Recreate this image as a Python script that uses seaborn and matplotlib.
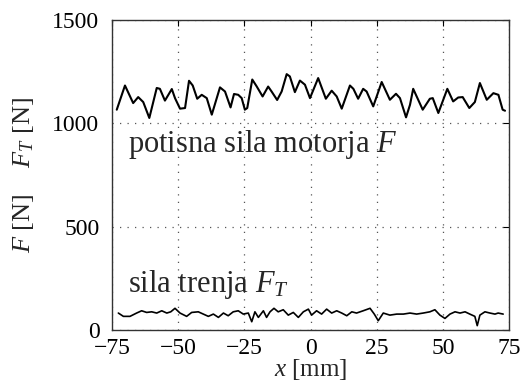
import numpy as np
import pandas as pd
import matplotlib
matplotlib.use("Agg")
import matplotlib.pyplot as plt
import seaborn as sns

# ---- data ----
x_F = [-73.2, -70.1, -67.0, -65.1, -63.2, -60.9, -58.1, -56.9, -55.0, -52.4, -51.2, -49.3,
       -47.4, -45.9, -44.5, -42.8, -41.1, -39.2, -37.3,
       -34.2, -32.3, -30.2, -28.9, -27.3, -26.0, -24.8, -23.9, -22.0, -20.3, -18.1, -16.0,
       -14.7, -12.6, -10.9, -9.0, -7.8, -5.9, -4.0, -2.1, -0.2,
       2.9, 5.8, 8.0, 9.9, 11.8, 14.9, 16.2, 18.0, 19.9, 21.2, 23.7, 26.9, 30.0, 32.3, 33.8,
       36.1, 37.6,
       38.8, 42.4, 45.1, 46.2, 48.3, 51.7, 53.9, 55.8, 57.5, 60.0, 62.1, 64.0, 66.6, 69.1,
       71.0, 72.6, 73.5]
F_vals = [1066, 1183, 1098, 1127, 1103, 1026, 1171, 1167, 1110, 1166, 1122, 1071,
          1074, 1206, 1183, 1119, 1138, 1122, 1042,
          1174, 1154, 1077, 1142, 1138, 1122, 1066, 1074, 1212, 1178, 1130, 1178,
          1154, 1113, 1154, 1238, 1227, 1151, 1207, 1187, 1122,
          1219, 1119, 1158, 1130, 1071, 1183, 1167, 1119, 1167, 1154, 1082, 1200, 1114, 1143, 1122,
          1029, 1090,
          1167, 1066, 1119, 1122, 1050, 1167, 1106, 1125, 1127, 1074, 1103, 1195, 1114, 1146,
          1138, 1066, 1061]

x_FT = [-72.6, -70.7, -68.2, -65.7, -63.8, -61.9, -60.0, -58.1, -56.2, -54.3, -52.8, -51.2,
        -49.3, -46.8, -44.9, -42.4, -40.5, -38.6, -36.7, -34.8, -32.9, -31.1, -29.2, -27.3,
        -25.4, -23.5, -22.2, -21.0, -19.7, -17.8, -16.6, -15.3, -13.8, -12.2, -10.3, -8.4,
        -6.5, -4.6, -2.7, -0.8, 0.4, 2.3, 4.2, 6.1, 8.0, 9.9, 11.8, 13.7, 15.6, 17.4, 19.9,
        22.5, 24.1, 25.6, 27.5, 30.0, 32.6, 35.1, 37.6, 40.1, 42.6, 45.1, 47.0, 48.9, 50.8,
        52.7, 54.6, 56.5, 58.4, 60.2, 62.1, 63.0, 64.0, 65.9, 67.8, 69.7, 70.9, 72.8]
FT_vals = [82, 66, 66, 82, 93, 85, 88, 82, 93, 82, 88, 105,
           82, 66, 85, 88, 77, 66, 77, 61, 82, 69, 88, 93,
           77, 82, 40, 88, 61, 93, 61, 88, 105, 88, 98, 72,
           85, 61, 88, 101, 72, 93, 77, 101, 82, 93, 82, 69, 88, 82, 93,
           105, 77, 45, 82, 72, 77, 77, 82, 77, 82, 88, 98, 72, 56,
           77, 88, 82, 88, 77, 66, 21, 72, 88, 82, 77, 82, 77]

x_ticks = [-75, -50, -25, 0, 25, 50, 75]
y_ticks = [0, 500, 1000, 1500]
label_F = "potisna sila motorja $F$"
label_FT = "sila trenja $F_T$"

sns.set_theme(style="white")
plt.rcParams["font.family"] = ["Liberation Serif", "DejaVu Serif"]
plt.rcParams["mathtext.fontset"] = "custom"
plt.rcParams["mathtext.rm"] = "Liberation Serif"
plt.rcParams["mathtext.it"] = "Liberation Serif:italic"

fig = plt.figure(figsize=(5.21, 3.87), dpi=100)
ax = fig.add_axes([112 / 521, 1 - 330 / 387, 397 / 521, 310 / 387])

dF = pd.DataFrame({"x": x_F, "y": F_vals})
dT = pd.DataFrame({"x": x_FT, "y": FT_vals})
sns.lineplot(data=dF, x="x", y="y", ax=ax, color="black", lw=1.5, sort=False, estimator=None)
sns.lineplot(data=dT, x="x", y="y", ax=ax, color="black", lw=1.2, sort=False, estimator=None)

ax.set_xlim(-75, 75)
ax.set_ylim(0, 1500)
ax.set_xticks(x_ticks)
ax.set_yticks(y_ticks)
ax.set_xticklabels([str(t).replace("-", "\u2212") for t in x_ticks])
ax.grid(True, color="#555555", linestyle=(0, (1, 5)), linewidth=0.9)
ax.tick_params(direction="in", length=4, width=0.8, top=True, right=True,
               labelsize=17, colors="black")
ax.tick_params(axis="y", pad=9)
ax.tick_params(axis="x", pad=6)
for s in ax.spines.values():
    s.set_color("#333333")
    s.set_linewidth(1.0)

ax.set_xlabel("$x$ [mm]", fontsize=18, labelpad=-2)
ax.set_ylabel("$F$ [N]    $F_T$ [N]", fontsize=19, labelpad=12)

ax.text(-69, 862, label_F, fontsize=22, va="baseline", ha="left")
ax.text(-69, 183, label_FT, fontsize=22, va="baseline", ha="left")

fig.savefig("out.png", dpi=100)
